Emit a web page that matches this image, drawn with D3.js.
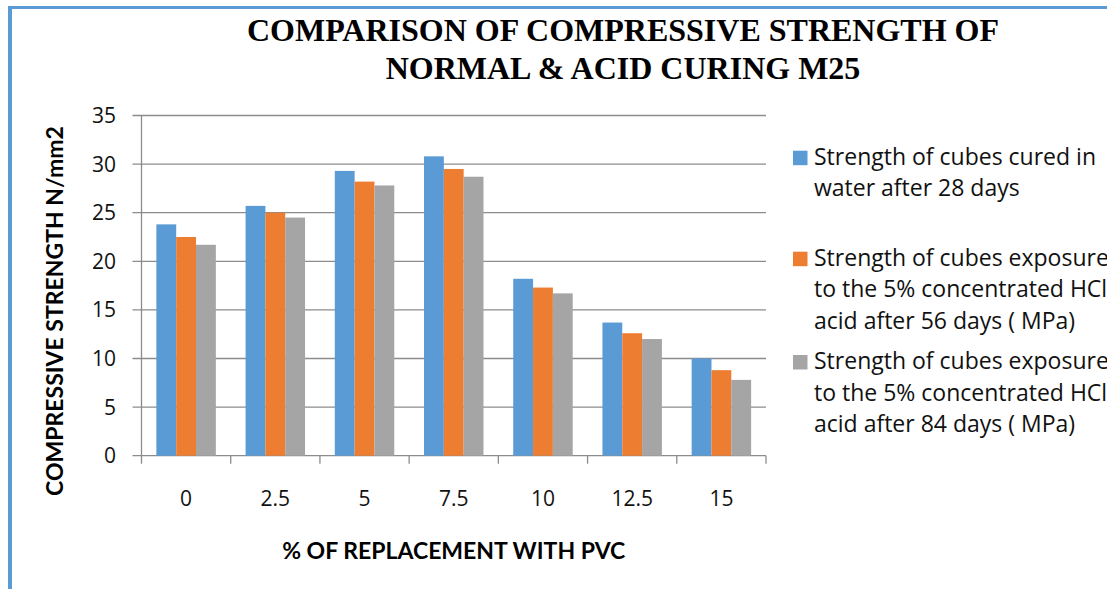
<!DOCTYPE html>
<html>
<head>
<meta charset="utf-8">
<script src="https://cdn.jsdelivr.net/npm/d3@7"></script>
<style>
  html, body { margin: 0; padding: 0; background: #fff; overflow: hidden; }
  svg { display: block; }
</style>
</head>
<body>
<svg id="chart" width="1107" height="589"></svg>
<script>
// Replacement levels of PVC (%)
const categories = ["0", "2.5", "5", "7.5", "10", "12.5", "15"];

// Compressive strength (N/mm2) for each curing regime
const water28 = [23.8, 25.7, 29.3, 30.8, 18.2, 13.7, 10.0];
const acid56  = [22.5, 25.0, 28.2, 29.5, 17.3, 12.6, 8.8];
const acid84  = [21.7, 24.5, 27.8, 28.7, 16.7, 12.0, 7.8];

const seriesNames = [
  ["Strength of cubes cured in", "water after 28 days"],
  ["Strength of cubes exposure", "to the 5% concentrated HCl", "acid after 56 days ( MPa)"],
  ["Strength of cubes exposure", "to the 5% concentrated HCl", "acid after 84 days ( MPa)"]
];
const seriesColors = ["#5B9BD5", "#ED7D31", "#A5A5A5"];
const yTicks = [0, 5, 10, 15, 20, 25, 30, 35];

const titleLines = ["COMPARISON OF COMPRESSIVE STRENGTH OF", "NORMAL & ACID CURING M25"];

const series = [water28, acid56, acid84];

const svg = d3.select("#chart");
const sansFont = "'Open Sans', Lato, sans-serif";
const boldFont = "Lato, 'Open Sans', sans-serif";

// Frame lines of the chart area
svg.append("line")
  .attr("x1", 10).attr("x2", 1107).attr("y1", 7.5).attr("y2", 7.5)
  .attr("stroke", "#5B9BD5").attr("stroke-width", 3);
svg.append("line")
  .attr("x1", 10).attr("x2", 10).attr("y1", 6).attr("y2", 589)
  .attr("stroke", "#5B9BD5").attr("stroke-width", 4);

// Title
svg.append("text")
  .attr("text-anchor", "middle")
  .attr("font-family", "'Liberation Serif', 'Times New Roman', serif")
  .attr("font-weight", "bold")
  .attr("font-size", 32)
  .selectAll("tspan")
  .data(titleLines)
  .join("tspan")
  .attr("x", 623)
  .attr("y", (d, i) => 41 + i * 37.5)
  .text(d => d);

// Scales
const plotLeft = 141.5, plotRight = 766, plotTop = 115.5, plotBottom = 455.7;

const x = d3.scaleBand()
  .domain(categories)
  .range([plotLeft, plotRight])
  .paddingInner(0)
  .paddingOuter(0);

const xSub = d3.scaleBand()
  .domain(d3.range(series.length))
  .range([0, x.bandwidth()])
  .paddingInner(0)
  .paddingOuter(0.75);

const y = d3.scaleLinear()
  .domain([0, 35])
  .range([plotBottom, plotTop]);

// Horizontal gridlines, extending left as tick marks
svg.append("g")
  .selectAll("line")
  .data(yTicks)
  .join("line")
  .attr("x1", plotLeft - 9)
  .attr("x2", plotRight)
  .attr("y1", d => y(d))
  .attr("y2", d => y(d))
  .attr("stroke", "#8c8c8c")
  .attr("stroke-width", 1.3);

// Y axis line
svg.append("line")
  .attr("x1", plotLeft).attr("x2", plotLeft)
  .attr("y1", plotTop).attr("y2", plotBottom + 8)
  .attr("stroke", "#8c8c8c").attr("stroke-width", 1.3);

// X-axis category boundary ticks
const boundaries = categories.map(c => x(c)).concat([plotRight]);
svg.append("g")
  .selectAll("line")
  .data(boundaries.slice(1))
  .join("line")
  .attr("x1", d => d).attr("x2", d => d)
  .attr("y1", plotBottom).attr("y2", plotBottom + 8)
  .attr("stroke", "#8c8c8c").attr("stroke-width", 1.3);

// Bars
const groups = svg.append("g")
  .selectAll("g")
  .data(categories)
  .join("g")
  .attr("transform", c => `translate(${x(c)},0)`);

groups.selectAll("rect")
  .data((c, ci) => series.map((s, si) => ({ si, v: s[ci] })))
  .join("rect")
  .attr("x", d => xSub(d.si))
  .attr("width", xSub.bandwidth())
  .attr("y", d => y(d.v))
  .attr("height", d => y(0) - y(d.v))
  .attr("fill", d => seriesColors[d.si]);

// Y tick labels
svg.append("g")
  .selectAll("text")
  .data(yTicks)
  .join("text")
  .attr("x", 116)
  .attr("y", d => y(d))
  .attr("dy", "0.36em")
  .attr("text-anchor", "end")
  .attr("font-family", sansFont)
  .attr("font-size", 21)
  .attr("fill", "#111")
  .text(d => d);

// X category labels
svg.append("g")
  .selectAll("text")
  .data(categories)
  .join("text")
  .attr("x", c => x(c) + x.bandwidth() / 2)
  .attr("y", 506)
  .attr("text-anchor", "middle")
  .attr("font-family", sansFont)
  .attr("font-size", 21)
  .attr("fill", "#111")
  .text(c => c);

// Axis titles
svg.append("text")
  .attr("x", (plotLeft + plotRight) / 2)
  .attr("y", 559)
  .attr("text-anchor", "middle")
  .attr("font-family", boldFont)
  .attr("font-weight", "bold")
  .attr("font-size", 23)
  .attr("fill", "#000")
  .text("% OF REPLACEMENT WITH PVC");

svg.append("text")
  .attr("transform", "translate(63,311) rotate(-90)")
  .attr("text-anchor", "middle")
  .attr("font-family", boldFont)
  .attr("font-weight", "bold")
  .attr("font-size", 23)
  .attr("fill", "#000")
  .text("COMPRESSIVE STRENGTH N/mm2");

// Legend
const legendTops = [150.7, 251.7, 355];
const legend = svg.append("g")
  .selectAll("g")
  .data(seriesNames)
  .join("g")
  .attr("transform", (d, i) => `translate(793,${legendTops[i]})`);

legend.append("rect")
  .attr("width", 14.5).attr("height", 14.5)
  .attr("fill", (d, i) => seriesColors[i]);

legend.append("text")
  .attr("font-family", sansFont)
  .attr("font-size", 23)
  .attr("fill", "#111")
  .selectAll("tspan")
  .data(d => d)
  .join("tspan")
  .attr("x", 21)
  .attr("y", (d, i) => 14 + i * 31.7)
  .text(d => d);
</script>
</body>
</html>
